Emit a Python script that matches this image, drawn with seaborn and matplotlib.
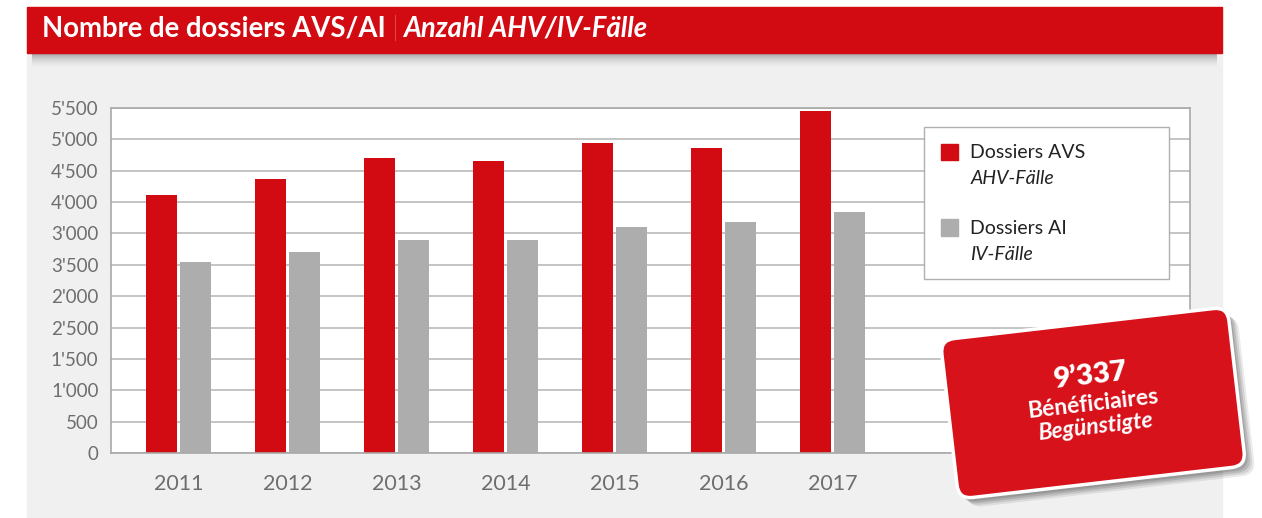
import numpy as np
import pandas as pd
import matplotlib
matplotlib.use("Agg")
import matplotlib.pyplot as plt
import seaborn as sns
from matplotlib.patches import Rectangle, FancyBboxPatch, Patch
from matplotlib.transforms import Affine2D

# data
years = ["2011", "2012", "2013", "2014", "2015", "2016", "2017"]
avs = [4115, 4370, 4705, 4660, 4945, 4865, 5455]
ai = [3045, 3205, 3400, 3400, 3605, 3685, 3845]
series = ["Dossiers AVS", "Dossiers AI"]
series_de = ["AHV-Fälle", "IV-Fälle"]
y_ticks = [0, 500, 1000, 1500, 2000, 2500, 3000, 3500, 4000, 4500, 5000, 5500]
# labels as printed in the original (some pairs are swapped there)
y_tick_labels = ["0", "500", "1'000", "1'500", "2'500", "2'000",
                 "3'500", "3'000", "4'000", "4'500", "5'000", "5'500"]
title_fr = "Nombre de dossiers AVS/AI"
title_de = "Anzahl AHV/IV-Fälle"
badge_value = "9’337"
badge_fr = "Bénéficiaires"
badge_de = "Begünstigte"

RED = "#d20a11"
GREY = "#adadad"
TICK = "#6e6e6e"

df = pd.DataFrame({
    "year": years * 2,
    "value": avs + ai,
    "series": [series[0]] * len(years) + [series[1]] * len(years),
})

plt.rcParams["font.family"] = ["Lato", "DejaVu Sans"]

W, H = 1262, 518
fig = plt.figure(figsize=(W / 100, H / 100), dpi=100)
fig.patch.set_facecolor("white")


def fx(x):
    return x / W


def fy(y):
    return 1 - y / H


# grey page + red header band with soft shadow
fig.add_artist(Rectangle((fx(27), 0), fx(1222) - fx(27), fy(52), transform=fig.transFigure,
                         color="#f0f0f0", zorder=0))
for i in range(16):
    a = 0.32 * (1 - i / 16) ** 2
    fig.add_artist(Rectangle((fx(32), fy(53 + i + 1)), fx(1217) - fx(32), 1 / H,
                             transform=fig.transFigure, color="black", alpha=a, lw=0, zorder=1))
fig.add_artist(Rectangle((fx(27), fy(53)), fx(1222) - fx(27), 46 / H, transform=fig.transFigure,
                         color=RED, zorder=2))

# title
renderer = fig.canvas.get_renderer()
tsize = 19.8
t1 = fig.text(fx(42), fy(29), title_fr, color="white", fontsize=tsize, fontweight="bold",
              va="center", ha="left", zorder=3)
bb = t1.get_window_extent(renderer)
t2 = fig.text(fx(42) + (bb.width + 6) / W, fy(28), "|", color="#f3c7c9", fontsize=tsize,
              fontweight="light", va="center", ha="left", zorder=3)
bb2 = t2.get_window_extent(renderer)
t3 = fig.text(fx(42) + (bb.width + 6 + bb2.width + 5) / W, fy(29), title_de, color="white",
              fontsize=tsize, fontweight="bold", fontstyle="italic", va="center", ha="left", zorder=3)

# chart
ax = fig.add_axes([fx(111), fy(453), fx(1190) - fx(111), fy(108) - fy(453)])
ax.set_facecolor("white")
sns.barplot(data=df, x="year", y="value", hue="series", palette=[RED, GREY],
            width=0.62, gap=0.08, saturation=1, linewidth=0, legend=False, ax=ax)
ax.set_xlim(-0.62, 9.28)
ax.set_ylim(0, 5500)
ax.set_yticks(y_ticks, y_tick_labels)
ax.set_xlabel("")
ax.set_ylabel("")
ax.set_axisbelow(True)
ax.yaxis.grid(True, color="#c4c4c4", lw=1.4)
ax.xaxis.grid(False)
for s in ax.spines.values():
    s.set_color("#a9a9a9")
    s.set_linewidth(1.2)
ax.tick_params(axis="y", length=0, pad=9, labelsize=13.5, labelcolor=TICK)
ax.tick_params(axis="x", length=0, pad=15, labelsize=15.5, labelcolor=TICK)

# legend: name + German name in italic, blank row between the series
blank = Patch(facecolor="none", edgecolor="none")
handles = [Patch(color=RED), blank, blank, Patch(color=GREY), blank]
labels = [series[0], series_de[0], "", series[1], series_de[1]]
leg = ax.legend(handles, labels, loc="upper left",
                bbox_to_anchor=(fx(924), fy(127), fx(1169) - fx(924), 0),
                bbox_transform=fig.transFigure, mode="expand", frameon=True, fancybox=False,
                framealpha=1, edgecolor="#b0b0b0", fontsize=14, handlelength=0.92,
                handleheight=0.92, handletextpad=0.62, labelspacing=0.38, borderpad=0.85,
                borderaxespad=0)
leg.get_frame().set_linewidth(1.0)
for i, t in enumerate(leg.get_texts()):
    t.set_color("#222222")
    if i in (1, 4):
        t.set_fontstyle("italic")

# rotated badge
cx, cy = 1093, H - 403
bw, bh, ang = 289, 160, 6.6
rot = Affine2D().rotate_deg_around(cx, cy, ang).scale(1 / W, 1 / H) + fig.transFigure
for dx, dy, a in [(9, -10, 0.08), (7, -8, 0.10), (5, -6, 0.12), (3, -4, 0.12)]:
    fig.add_artist(FancyBboxPatch((cx - bw / 2 + dx, cy - bh / 2 + dy), bw, bh,
                                  boxstyle="round,pad=0,rounding_size=14", transform=rot,
                                  fc="black", ec="none", alpha=a, zorder=5))
fig.add_artist(FancyBboxPatch((cx - bw / 2, cy - bh / 2), bw, bh,
                              boxstyle="round,pad=0,rounding_size=14", transform=rot,
                              fc="#d7121b", ec="white", lw=2.5, zorder=6))
th = np.deg2rad(ang)
for txt, dy, size, weight, style in [(badge_value, 27, 21, "heavy", "normal"),
                                     (badge_fr, -1, 16.5, "bold", "normal"),
                                     (badge_de, -24, 16.5, "bold", "italic")]:
    px = cx - dy * np.sin(th)
    py = cy + dy * np.cos(th)
    fig.text(px / W, py / H, txt, color="white", fontsize=size, fontweight=weight,
             fontstyle=style, rotation=ang, rotation_mode="anchor", ha="center", va="center",
             zorder=7)

fig.savefig("out.png", dpi=100)
